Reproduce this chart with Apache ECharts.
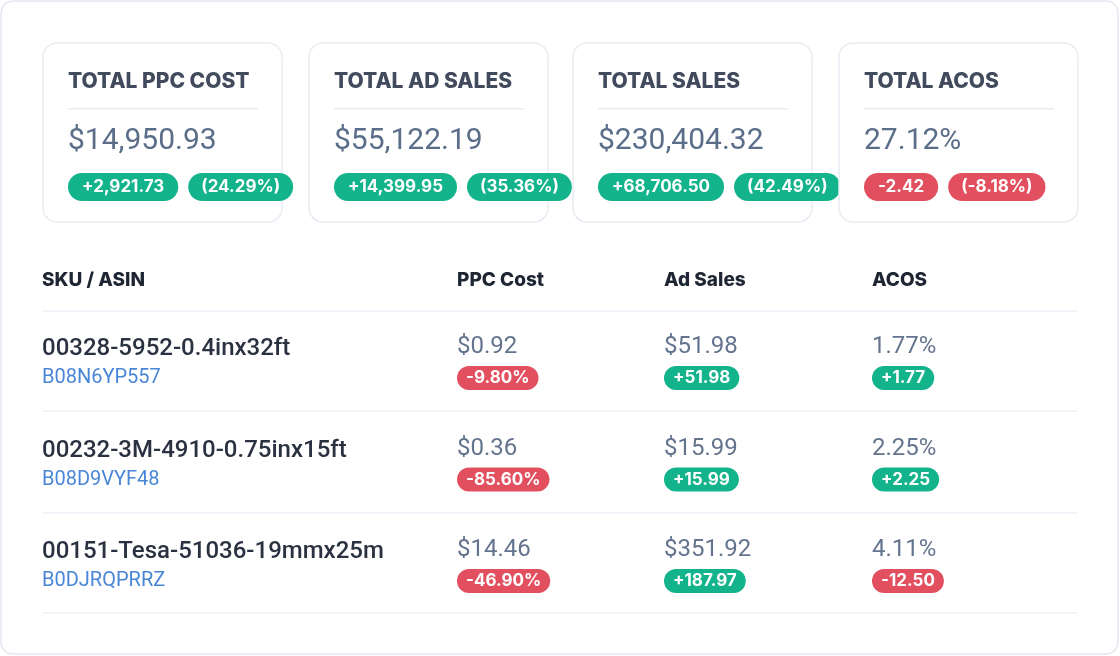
<!DOCTYPE html>
<html><head><meta charset="utf-8">
<script src="https://cdn.jsdelivr.net/npm/echarts@6/dist/echarts.min.js"></script>
<style>html,body{margin:0;padding:0;background:#fff}#c{width:1120px;height:656px}</style>
</head><body><div id="c"></div>
<script>
const kpiTitles = ['TOTAL PPC COST','TOTAL AD SALES','TOTAL SALES','TOTAL ACOS'];
const kpiValues = ['$14,950.93','$55,122.19','$230,404.32','27.12%'];
const kpiDeltas = ['+2,921.73','+14,399.95','+68,706.50','-2.42'];
const kpiPcts = ['(24.29%)','(35.36%)','(42.49%)','(-8.18%)'];
const headers = ['SKU / ASIN','PPC Cost','Ad Sales','ACOS'];
const skus = ['00328-5952-0.4inx32ft','00232-3M-4910-0.75inx15ft','00151-Tesa-51036-19mmx25m'];
const asins = ['B08N6YP557','B08D9VYF48','B0DJRQPRRZ'];
const ppcCost = ['$0.92','$0.36','$14.46'];
const ppcDelta = ['-9.80%','-85.60%','-46.90%'];
const adSales = ['$51.98','$15.99','$351.92'];
const adDelta = ['+51.98','+15.99','+187.97'];
const acos = ['1.77%','2.25%','4.11%'];
const acosDelta = ['+1.77','+2.25','-12.50'];

const GREEN='#13b38b', RED='#e2505f';
const col = s => s.startsWith('-')||s.startsWith('(-') ? RED : GREEN;
const els = [];
els.push({type:'rect',shape:{x:1,y:1,width:1117,height:653,r:12},style:{fill:'#fff',stroke:'#e3e8f0',lineWidth:1.5}});
const cardX=[43,309,573,839];
function badge(x,y,t,fs,h,pad){
  return {type:'text',x:x,y:y,style:{text:t,fill:'#fff',font:'bold '+fs+'px Inter, Roboto, sans-serif',
    backgroundColor:col(t),padding:pad,borderRadius:h/2,verticalAlign:'middle',textAlign:'left'}};
}
const ctx=document.createElement('canvas').getContext('2d');
function w(t,font){ctx.font=font;return ctx.measureText(t).width;}
kpiTitles.forEach((t,i)=>{
  const x=cardX[i];
  els.push({type:'rect',shape:{x:x,y:43,width:239,height:179,r:14},style:{fill:'#fff',stroke:'#e8edf3',lineWidth:1.5}});
  els.push({type:'text',x:x+25,y:82,style:{text:t,fill:'#414b5d',font:'800 21px Inter, sans-serif',verticalAlign:'middle'}});
  els.push({type:'rect',shape:{x:x+25,y:108,width:190,height:1.5},style:{fill:'#e8edf3'}});
  els.push({type:'text',x:x+25,y:141,style:{text:kpiValues[i],fill:'#5a6d89',font:'30px Roboto, sans-serif',verticalAlign:'middle'}});
  const f='bold 17px Inter, Roboto, sans-serif';
  els.push(badge(x+25,187,kpiDeltas[i],17,28,[6,14,5,14]));
  const bw=w(kpiDeltas[i],f)+28;
  els.push(badge(x+25+bw+10,187,kpiPcts[i],17,28,[6,13,5,13]));
});
const colX=[42,457,664,872];
headers.forEach((h,i)=>els.push({type:'text',x:colX[i],y:280,style:{text:h,fill:'#1e2533',font:'800 19px Inter, sans-serif',verticalAlign:'middle'}}));
[311,411,513,613].forEach(y=>els.push({type:'rect',shape:{x:42,y:y-0.75,width:1036,height:1.5},style:{fill:'#eef2f7'}}));
skus.forEach((s,r)=>{
  const y0=r*101.5;
  els.push({type:'text',x:42,y:349+y0,style:{text:s,fill:'#2a3140',font:'500 24px Roboto, sans-serif',verticalAlign:'middle'}});
  els.push({type:'text',x:42,y:378+y0,style:{text:asins[r],fill:'#4a86d6',font:'20px Roboto, sans-serif',verticalAlign:'middle'}});
  [[ppcCost,ppcDelta],[adSales,adDelta],[acos,acosDelta]].forEach((p,k)=>{
    const x=colX[k+1];
    els.push({type:'text',x:x,y:347+y0,style:{text:p[0][r],fill:'#64748e',font:'24px Roboto, sans-serif',verticalAlign:'middle'}});
    els.push(badge(x,378+y0,p[1][r],17,24,[4,9,3,9]));
  });
});
const chart=echarts.init(document.getElementById('c'));
chart.setOption({animation:false,graphic:{elements:els}});
</script></body></html>
